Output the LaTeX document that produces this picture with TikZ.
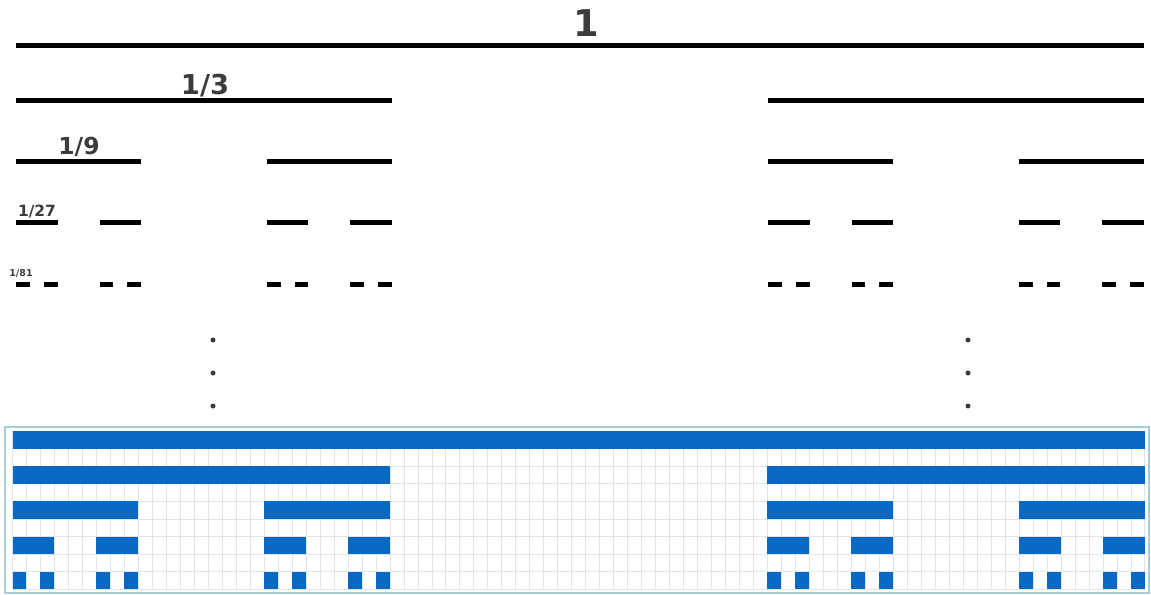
\documentclass[tikz,border=0pt]{standalone}
\usepackage{fontspec}
\setmainfont{DejaVu Sans}
\definecolor{labelgray}{RGB}{60,60,60}
\definecolor{barblue}{RGB}{8,104,194}
\definecolor{gridgray}{RGB}{222,228,234}
\definecolor{boxblue}{RGB}{165,205,222}
\begin{document}
\begin{tikzpicture}[x=1bp,y=-1bp,
  seg/.style={line width=5bp, draw=black},
  lbl/.style={anchor=base, inner sep=0pt, text=labelgray, font=\bfseries},
  bar/.style={fill=barblue, draw=none},
  gridln/.style={draw=gridgray, line width=0.8bp},
  boxln/.style={draw=boxblue, line width=2bp},
  dot/.style={circle, fill=labelgray, inner sep=0pt, minimum size=5bp}]
\useasboundingbox (0,0) rectangle (1151,595);
\def\ux{13.926}
\def\xo{16}
% black Cantor lines
\foreach \s in {0} \draw[seg] ({\xo+\s*\ux},46) -- ({\xo+(\s+81)*\ux},46);
\foreach \s in {0,54} \draw[seg] ({\xo+\s*\ux},101) -- ({\xo+(\s+27)*\ux},101);
\foreach \s in {0,18,54,72} \draw[seg] ({\xo+\s*\ux},162) -- ({\xo+(\s+9)*\ux},162);
\foreach \s in {0,6,18,24,54,60,72,78} \draw[seg] ({\xo+\s*\ux},223) -- ({\xo+(\s+3)*\ux},223);
\foreach \s in {0,2,6,8,18,20,24,26,54,56,60,62,72,74,78,80} \draw[seg] ({\xo+\s*\ux},285) -- ({\xo+(\s+1)*\ux},285);
% labels
\node[lbl, font=\bfseries\fontsize{37}{40}\selectfont] (l1) at (586,37) {1};
\node[lbl, font=\bfseries\fontsize{27.5}{30}\selectfont] (l3) at (205,95) {1/3};
\node[lbl, font=\bfseries\fontsize{23.5}{26}\selectfont] (l9) at (79,155) {1/9};
\node[lbl, font=\bfseries\fontsize{15.5}{18}\selectfont] (l27) at (37,217) {1/27};
\node[lbl, font=\bfseries\fontsize{9.5}{11}\selectfont] (l81) at (21,277) {1/81};
% dots
\foreach \y [count=\k] in {340,373,406} {
  \node[dot] (da\k) at (213,\y) {};
  \node[dot] (db\k) at (968,\y) {};
}
% grid
\def\cx{13.98}
\def\cy{17.6}
\def\gx{12.5}
\def\gy{431}
\foreach \i in {0,...,81} \draw[gridln] ({\gx+\i*\cx},{\gy}) -- ({\gx+\i*\cx},{\gy+9*\cy});
\foreach \j in {0,...,9} \draw[gridln] ({\gx},{\gy+\j*\cy}) -- ({\gx+81*\cx},{\gy+\j*\cy});
% blue bars
\foreach \s in {0} \fill[bar] ({\gx+\s*\cx},{\gy}) rectangle ({\gx+(\s+81)*\cx},{\gy+\cy});
\foreach \s in {0,54} \fill[bar] ({\gx+\s*\cx},{\gy+2*\cy}) rectangle ({\gx+(\s+27)*\cx},{\gy+3*\cy});
\foreach \s in {0,18,54,72} \fill[bar] ({\gx+\s*\cx},{\gy+4*\cy}) rectangle ({\gx+(\s+9)*\cx},{\gy+5*\cy});
\foreach \s in {0,6,18,24,54,60,72,78} \fill[bar] ({\gx+\s*\cx},{\gy+6*\cy}) rectangle ({\gx+(\s+3)*\cx},{\gy+7*\cy});
\foreach \s in {0,2,6,8,18,20,24,26,54,56,60,62,72,74,78,80} \fill[bar] ({\gx+\s*\cx},{\gy+8*\cy}) rectangle ({\gx+(\s+1)*\cx},{\gy+9*\cy});
% frame
\draw[boxln] (5,427) rectangle (1149,593);
\end{tikzpicture}
\end{document}
